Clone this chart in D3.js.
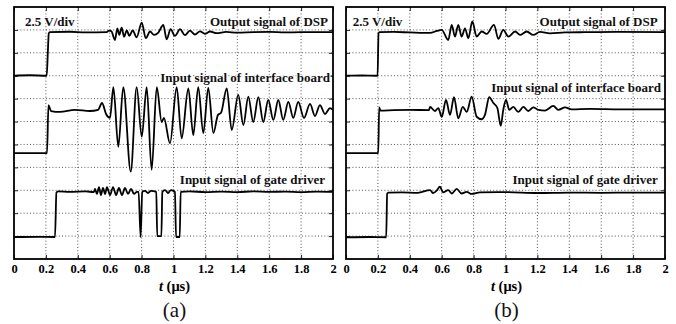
<!DOCTYPE html>
<html>
<head>
<meta charset="utf-8">
<script src="https://cdn.jsdelivr.net/npm/d3@7"></script>
<style>
  html, body { margin: 0; padding: 0; background: #fff; }
  svg { display: block; }
  text { font-family: "Liberation Serif", "Times New Roman", serif; }
</style>
</head>
<body>
<svg id="chart" width="676" height="324"></svg>
<script>
// ---- Data (time in µs, level in divisions of 2.5 V/div, 0 = bottom of screen) ----
const xTickValues = [0, 0.2, 0.4, 0.6, 0.8, 1, 1.2, 1.4, 1.6, 1.8, 2];
const xTickLabels = ["0", "0.2", "0.4", "0.6", "0.8", "1", "1.2", "1.4", "1.6", "1.8", "2"];
const yGridValues = [1, 2, 3, 4, 5, 6, 7, 8, 9, 10];
const panelLabels = ["(a)", "(b)"];
const traceNames = ["Output signal of DSP", "Input signal of interface board", "Input signal of gate driver"];
const scaleLabel = "2.5 V/div";

const dspA = [[0,8.0],[0.10,8.02],[0.205,8.0],[0.212,9.0],[0.218,9.85],[0.225,9.9],[0.35,9.92],[0.45,9.89],[0.581,9.9],[0.595,9.97],[0.61,9.95],[0.633,9.56],[0.648,10.07],[0.660,9.78],[0.675,10.1],[0.690,9.7],[0.707,9.98],[0.723,9.74],[0.744,9.98],[0.769,9.68],[0.801,10.32],[0.826,9.64],[0.853,9.93],[0.878,9.78],[0.905,9.88],[0.936,10.22],[0.957,9.59],[0.982,10.03],[1.009,9.74],[1.041,10.03],[1.072,9.77],[1.103,9.97],[1.135,9.8],[1.166,9.94],[1.197,9.83],[1.229,9.93],[1.27,9.86],[1.33,9.91],[1.40,9.88],[1.5,9.9],[1.6,9.91],[1.7,9.89],[1.8,9.9],[2.0,9.9]];

const ifbA = [[0,4.62],[0.207,4.62],[0.216,6.72],[0.232,6.46],[0.288,6.42],[0.382,6.51],[0.476,6.46],[0.527,6.51],[0.552,6.81],[0.577,6.33],[0.602,6.16],[0.623,7.5],[0.654,4.9],[0.685,7.5],[0.732,3.81],[0.769,7.5],[0.801,5.34],[0.832,7.5],[0.863,3.89],[0.895,7.5],[0.926,5.98],[0.940,6.16],[0.978,5.05],[1.020,7.5],[1.051,5.27],[1.093,7.45],[1.124,5.41],[1.155,7.5],[1.187,5.5],[1.218,7.47],[1.250,5.5],[1.279,6.29],[1.298,6.38],[1.334,7.45],[1.365,5.63],[1.406,7.16],[1.438,5.85],[1.469,7.09],[1.500,5.98],[1.532,7.07],[1.563,5.98],[1.594,6.94],[1.626,6.07],[1.657,6.94],[1.688,6.07],[1.720,6.86],[1.751,6.16],[1.782,6.86],[1.818,6.16],[1.856,6.77],[1.887,6.24],[1.918,6.72],[1.950,6.33],[1.981,6.59],[2.0,6.51]];

const gateA = [[0,0.96],[0.15,0.97],[0.257,0.96],[0.266,2.9],[0.276,2.95],[0.35,2.93],[0.45,2.95],[0.5,2.92],[0.508,3.06],[0.520,2.84],[0.533,3.14],[0.545,2.79],[0.558,3.10],[0.571,2.84],[0.583,3.14],[0.602,2.79],[0.621,3.14],[0.640,2.79],[0.658,3.10],[0.677,2.79],[0.696,3.10],[0.715,2.84],[0.734,3.06],[0.752,2.84],[0.771,2.93],[0.781,2.93],[0.794,0.96],[0.804,2.93],[0.821,2.97],[0.840,2.88],[0.859,2.97],[0.892,2.93],[0.898,1.0],[0.924,1.0],[0.930,2.93],[0.947,3.01],[0.966,2.88],[0.984,3.01],[1.009,2.93],[1.016,0.96],[1.039,0.96],[1.045,2.93],[1.1,2.95],[1.2,2.92],[1.3,2.94],[1.4,2.92],[1.5,2.95],[1.6,2.93],[1.7,2.94],[1.8,2.92],[1.9,2.94],[2.0,2.93]];

const dspB = [[0,8.0],[0.1,8.01],[0.198,8.0],[0.204,9.85],[0.21,9.9],[0.3,9.91],[0.4,9.89],[0.527,9.87],[0.571,9.96],[0.600,10.0],[0.641,9.56],[0.663,10.22],[0.683,9.71],[0.704,10.22],[0.725,9.71],[0.746,10.07],[0.767,9.64],[0.792,10.37],[0.819,9.71],[0.851,9.93],[0.882,9.83],[0.928,10.22],[0.955,9.61],[0.986,10.0],[1.018,9.71],[1.060,9.93],[1.091,9.78],[1.133,9.93],[1.174,9.78],[1.216,9.91],[1.279,9.85],[1.373,9.89],[1.5,9.9],[1.7,9.91],[2.0,9.9]];

const ifbB = [[0,4.62],[0.202,4.62],[0.208,6.62],[0.216,6.48],[0.3,6.5],[0.4,6.51],[0.52,6.5],[0.527,6.64],[0.558,6.46],[0.579,6.59],[0.600,6.20],[0.627,6.94],[0.652,6.29],[0.677,7.06],[0.704,6.14],[0.732,6.64],[0.757,6.42],[0.788,7.09],[0.819,6.21],[0.851,6.10],[0.871,6.29],[0.898,7.06],[0.924,6.81],[0.949,6.59],[0.970,5.81],[0.986,6.51],[1.003,6.94],[1.024,6.51],[1.049,6.64],[1.080,6.42],[1.112,6.64],[1.143,6.46],[1.174,6.62],[1.206,6.51],[1.248,6.48],[1.300,6.68],[1.331,6.51],[1.373,6.62],[1.415,6.53],[1.530,6.55],[1.718,6.53],[2.0,6.53]];

const gateB = [[0,0.95],[0.15,0.96],[0.252,0.95],[0.258,2.85],[0.266,2.9],[0.35,2.91],[0.45,2.89],[0.527,3.01],[0.545,2.88],[0.571,3.01],[0.589,3.16],[0.608,2.91],[0.641,3.01],[0.663,2.86],[0.694,3.06],[0.725,2.86],[0.757,2.93],[0.788,2.84],[0.840,2.91],[1.0,2.92],[1.2,2.88],[1.4,2.9],[1.6,2.89],[1.8,2.9],[2.0,2.9]];

// ---- Layout ----
const svg = d3.select("#chart");
svg.append("rect").attr("width", 676).attr("height", 324).attr("fill", "#fff");

const panels = [
  { left: 14, traces: [dspA, ifbA, gateA], label: panelLabels[0],
    scaleX: 25, nameEnds: [328, 330, 325], nameBase: [26, 82.3, 184.3] },
  { left: 346, traces: [dspB, ifbB, gateB], label: panelLabels[1],
    scaleX: 352.7, nameEnds: [657.7, 661, 657.7], nameBase: [26, 91.7, 184.3] }
];
const plotW = 319, plotTop = 7, plotBottom = 259;

panels.forEach(p => {
  const x = d3.scaleLinear().domain([0, 2]).range([p.left, p.left + plotW]);
  const y = d3.scaleLinear().domain([0, 11]).range([plotBottom, plotTop]);
  const g = svg.append("g");

  // grid
  g.append("g").selectAll("line").data(xTickValues.slice(1, -1)).join("line")
    .attr("x1", d => x(d)).attr("x2", d => x(d)).attr("y1", plotTop).attr("y2", plotBottom)
    .attr("stroke", "#555").attr("stroke-width", 1).attr("stroke-dasharray", "1,2.2");
  g.append("g").selectAll("line").data(yGridValues).join("line")
    .attr("y1", d => y(d)).attr("y2", d => y(d)).attr("x1", p.left).attr("x2", p.left + plotW)
    .attr("stroke", "#555").attr("stroke-width", 1).attr("stroke-dasharray", "1,2.2");

  // inner ticks on all sides
  const mk = (axis) => axis.tickSizeOuter(0);
  const axB = g.append("g").attr("transform", `translate(0,${plotBottom})`)
    .call(mk(d3.axisBottom(x).tickValues(xTickValues).tickSize(-4).tickPadding(5)
      .tickFormat((d, i) => xTickLabels[i])));
  const axT = g.append("g").attr("transform", `translate(0,${plotTop})`)
    .call(mk(d3.axisTop(x).tickValues(xTickValues).tickSize(-4).tickFormat("")));
  const axL = g.append("g").attr("transform", `translate(${p.left},0)`)
    .call(mk(d3.axisLeft(y).tickValues(yGridValues).tickSize(-4).tickFormat("")));
  const axR = g.append("g").attr("transform", `translate(${p.left + plotW},0)`)
    .call(mk(d3.axisRight(y).tickValues(yGridValues).tickSize(-4).tickFormat("")));
  [axB, axT, axL, axR].forEach(a => {
    a.select(".domain").remove();
    a.selectAll(".tick line").attr("stroke", "#222").attr("stroke-width", 1);
  });
  axB.selectAll(".tick text")
    .attr("font-family", "Liberation Serif, serif").attr("font-weight", "bold")
    .attr("font-size", 12.5).attr("fill", "#000");

  // traces
  const line = d3.line().x(d => x(d[0])).y(d => y(d[1])).curve(d3.curveMonotoneX);
  p.traces.forEach(tr => {
    g.append("path").datum(tr).attr("d", line)
      .attr("fill", "none").attr("stroke", "#000").attr("stroke-width", 1.8)
      .attr("stroke-linejoin", "round");
  });

  // frame
  g.append("rect").attr("x", p.left).attr("y", plotTop).attr("width", plotW).attr("height", plotBottom - plotTop)
    .attr("fill", "none").attr("stroke", "#000").attr("stroke-width", 1.8);

  // in-plot labels
  const lab = (txt, xx, yy, anchor) => g.append("text").text(txt)
    .attr("x", xx).attr("y", yy).attr("text-anchor", anchor)
    .attr("font-weight", "bold").attr("font-size", 13).attr("fill", "#111")
    .attr("stroke", "#fff").attr("stroke-width", 2).attr("paint-order", "stroke");
  lab(scaleLabel, p.scaleX, 26, "start");
  traceNames.forEach((nm, i) => lab(nm, p.nameEnds[i], p.nameBase[i], "end"));

  // axis title
  const cx = p.left + plotW / 2 + 1;
  const t = g.append("text").attr("x", cx).attr("y", 290.5).attr("text-anchor", "middle")
    .attr("font-weight", "bold").attr("font-size", 14.5).attr("fill", "#000");
  t.append("tspan").attr("font-style", "italic").text("t");
  t.append("tspan").text(" (μs)");

  // panel label
  g.append("text").attr("x", cx).attr("y", 317).attr("text-anchor", "middle")
    .attr("font-size", 21).attr("fill", "#111").text(p.label);
});
</script>
</body>
</html>
